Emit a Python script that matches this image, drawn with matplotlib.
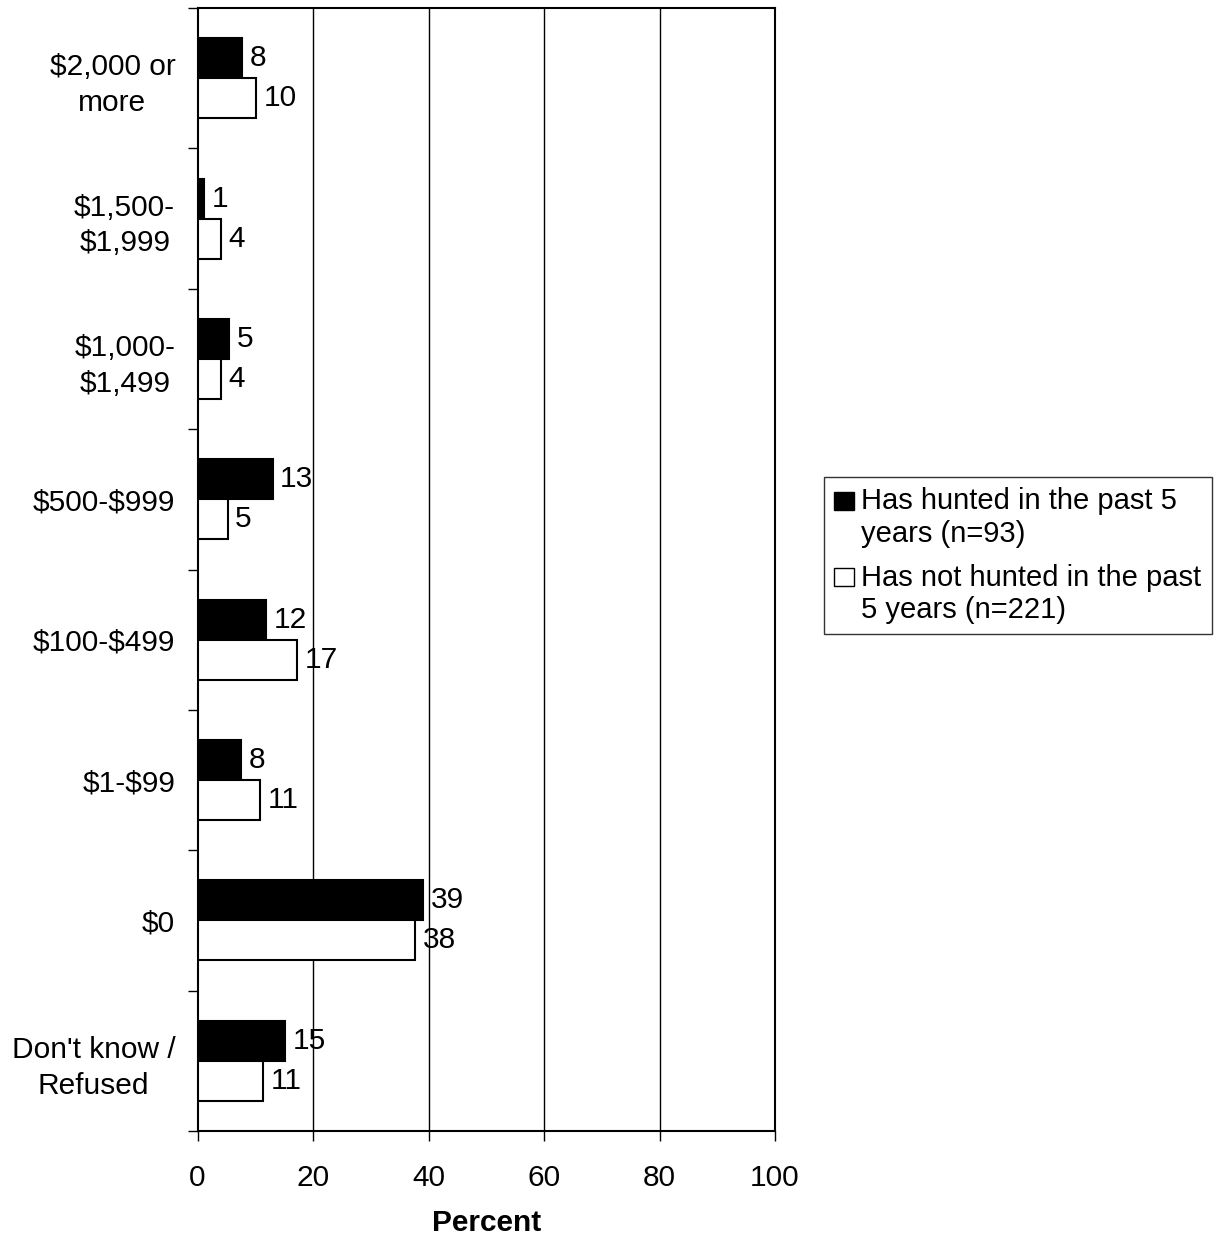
import matplotlib
matplotlib.use('Agg')
import matplotlib.pyplot as plt
from matplotlib.patches import Patch, Rectangle
from matplotlib.legend_handler import HandlerBase
import numpy as np

plt.rcParams['font.family'] = ['Liberation Sans', 'DejaVu Sans']
plt.rcParams['text.parse_math'] = False

categories = ['$2,000 or\nmore', '$1,500-\n$1,999', '$1,000-\n$1,499', '$500-$999',
              '$100-$499', '$1-$99', '$0', "Don't know /\nRefused"]
hunted = [7.7, 1.1, 5.5, 13.0, 11.9, 7.6, 39.0, 15.2]
not_hunted = [10.1, 4.1, 4.1, 5.2, 17.3, 10.9, 37.7, 11.3]
hunted_lbl = ['8', '1', '5', '13', '12', '8', '39', '15']
not_hunted_lbl = ['10', '4', '4', '5', '17', '11', '38', '11']
series_names = ['Has hunted in the past 5\nyears (n=93)',
                'Has not hunted in the past\n5 years (n=221)']

fs = 21.5


# legend square drawn next to the first line of a two-line label
class TopSquare(HandlerBase):
    def create_artists(self, legend, orig_handle, xdescent, ydescent, width, height, fontsize, trans):
        s = 0.62 * fontsize
        y0 = -ydescent + (height - s) / 2 + 0.6 * fontsize
        r = Rectangle((-xdescent, y0), s * 1.1, s, facecolor=orig_handle.get_facecolor(),
                      edgecolor='black', linewidth=1, transform=trans)
        return [r]


fig = plt.figure(figsize=(12.19, 12.38), dpi=100)
ax = fig.add_axes([197.5/1219, 1-1131/1238, 577.5/1219, 1123/1238])

y = np.arange(len(categories))
h = 0.285
ax.barh(y - h/2, hunted, height=h, color='black', edgecolor='black', linewidth=1.5, zorder=3)
ax.barh(y + h/2, not_hunted, height=h, color='white', edgecolor='black', linewidth=1.5, zorder=3)

for i in range(len(categories)):
    ax.annotate(hunted_lbl[i], (hunted[i], y[i] - h/2), xytext=(5.5, 0), textcoords='offset points',
                va='center', ha='left', fontsize=fs, zorder=4)
    ax.annotate(not_hunted_lbl[i], (not_hunted[i], y[i] + h/2), xytext=(5.5, 0), textcoords='offset points',
                va='center', ha='left', fontsize=fs, zorder=4)

ax.set_xlim(0, 100)
ax.set_ylim(len(categories) - 0.5, -0.5)
ax.set_xticks([0, 20, 40, 60, 80, 100])
ax.tick_params(axis='x', labelsize=fs, length=7, width=1, direction='out', pad=17)
ax.set_yticks(y)
ax.set_yticklabels(categories, fontsize=fs, multialignment='center', linespacing=1.35)
ax.tick_params(axis='y', which='major', length=0, pad=16)
ax.set_yticks(np.arange(-0.5, len(categories)), minor=True)
ax.tick_params(axis='y', which='minor', length=7, width=1, direction='out')
for x in [20, 40, 60, 80]:
    ax.axvline(x, color='black', linewidth=1, zorder=1)
for sp in ax.spines.values():
    sp.set_linewidth(1.5)
    sp.set_color('black')

ax.set_xlabel('Percent', fontsize=fs, fontweight='bold', labelpad=12)

handles = [Patch(facecolor='black', edgecolor='black'),
           Patch(facecolor='white', edgecolor='black')]
leg = fig.legend(handles, series_names, loc='upper left', bbox_to_anchor=(824/1219, 1-477/1238),
                 fontsize=21, frameon=True, fancybox=False, handlelength=0.68, handleheight=0.62,
                 handletextpad=0.25, borderpad=0.35, labelspacing=0.55, borderaxespad=0,
                 handler_map={Patch: TopSquare()})
leg.get_frame().set_edgecolor('black')
leg.get_frame().set_linewidth(1)

fig.savefig('out.png', dpi=100)
